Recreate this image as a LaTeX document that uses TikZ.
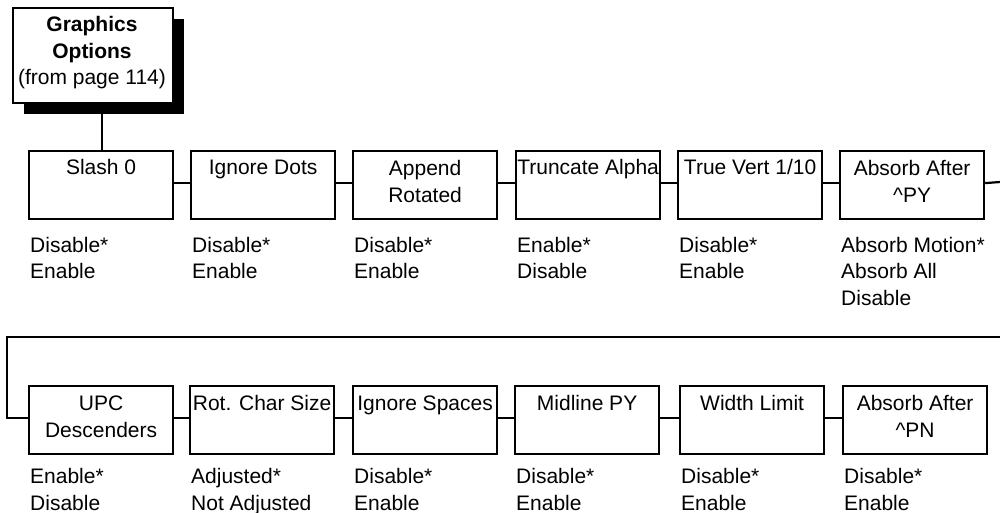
\documentclass[tikz,border=0pt]{standalone}
\usepackage{fontspec}
\setmainfont{Liberation Sans}
\begin{document}
\begin{tikzpicture}[x=1pt,y=-1pt,
  menubox/.style={draw=black,line width=2.2pt,fill=white,minimum width=144pt,minimum height=68pt,anchor=north west,inner sep=0pt},
  shadowbox/.style={fill=black,minimum width=160pt,minimum height=95pt,anchor=north west,inner sep=0pt},
  titletext/.style={font=\fontsize{21}{27}\selectfont,align=center,anchor=base,inner sep=0pt},
  opttext/.style={font=\fontsize{21}{26.5}\selectfont,align=left,anchor=base west,inner sep=0pt},
  link/.style={line width=2.2pt}]
\useasboundingbox (0,0) rectangle (1000,513);
% top box
\node[shadowbox] (gshadow) at (24,19) {};
\node[menubox,minimum width=160pt,minimum height=95pt] (go) at (12,7) {};
\node[titletext,font=\fontsize{21}{26.5}\selectfont] (gotext) at (92,85) {\textbf{Graphics}\\\textbf{Options}\\(from page 114)};
% row 1
\node[menubox] (a1) at (28,150) {};
\node[menubox] (a2) at (190,150) {};
\node[menubox] (a3) at (352,150) {};
\node[menubox] (a4) at (515,150) {};
\node[menubox] (a5) at (677,150) {};
\node[menubox] (a6) at (839,150) {};
\node[titletext] (t1) at ([yshift=-25pt]a1.north) {Slash 0};
\node[titletext] (t2) at ([yshift=-25pt]a2.north) {Ignore Dots};
\node[titletext] (t3) at ([yshift=-52pt]a3.north) {Append\\Rotated};
\node[titletext] (t4) at ([yshift=-25pt]a4.north) {Truncate Alpha};
\node[titletext] (t5) at ([yshift=-25pt]a5.north) {True Vert 1/10};
\node[titletext] (t6) at ([yshift=-52pt]a6.north) {Absorb After\\\textasciicircum PY};
\node[opttext] (o1) at ([xshift=2pt,yshift=-58.5pt]a1.south west) {Disable*\\Enable};
\node[opttext] (o2) at ([xshift=2pt,yshift=-58.5pt]a2.south west) {Disable*\\Enable};
\node[opttext] (o3) at ([xshift=2pt,yshift=-58.5pt]a3.south west) {Disable*\\Enable};
\node[opttext] (o4) at ([xshift=2pt,yshift=-58.5pt]a4.south west) {Enable*\\Disable};
\node[opttext] (o5) at ([xshift=2pt,yshift=-58.5pt]a5.south west) {Disable*\\Enable};
\node[opttext] (o6) at ([xshift=2pt,yshift=-85pt]a6.south west) {Absorb Motion*\\Absorb All\\Disable};
% row 2
\node[menubox] (b1) at (28,385) {};
\node[menubox] (b2) at (189,385) {};
\node[menubox] (b3) at (352,385) {};
\node[menubox] (b4) at (514,385) {};
\node[menubox] (b5) at (679,385) {};
\node[menubox] (b6) at (842,385) {};
\node[titletext] (s1) at ([yshift=-52pt]b1.north) {UPC\\Descenders};
\node[titletext] (s2) at ([yshift=-25pt]b2.north) {Rot. Char Size};
\node[titletext] (s3) at ([yshift=-25pt]b3.north) {Ignore Spaces};
\node[titletext] (s4) at ([yshift=-25pt]b4.north) {Midline PY};
\node[titletext] (s5) at ([yshift=-25pt]b5.north) {Width Limit};
\node[titletext] (s6) at ([yshift=-52pt]b6.north) {Absorb After\\\textasciicircum PN};
\node[opttext] (p1) at ([xshift=2pt,yshift=-55pt]b1.south west) {Enable*\\Disable};
\node[opttext] (p2) at ([xshift=2pt,yshift=-55pt]b2.south west) {Adjusted*\\Not Adjusted};
\node[opttext] (p3) at ([xshift=2pt,yshift=-55pt]b3.south west) {Disable*\\Enable};
\node[opttext] (p4) at ([xshift=2pt,yshift=-55pt]b4.south west) {Disable*\\Enable};
\node[opttext] (p5) at ([xshift=2pt,yshift=-55pt]b5.south west) {Disable*\\Enable};
\node[opttext] (p6) at ([xshift=2pt,yshift=-55pt]b6.south west) {Disable*\\Enable};
% connectors
\coordinate (shadowbottom) at (102,114);
\draw[link] (shadowbottom) -- (a1.north -| shadowbottom);
\foreach \u/\v in {a1/a2,a2/a3,a3/a4,a4/a5,a5/a6}
  \draw[link] ([yshift=2pt]\u.east) -- ([yshift=2pt]\v.west);
\coordinate (r1end) at (1000,182);
\draw[link] ([yshift=2pt]a6.east) -- (r1end);
\coordinate (r2start) at (1000,337);
\coordinate (r2corner) at (7,337);
\draw[link] (r2start) -- (r2corner) |- ([yshift=2pt]b1.west);
\foreach \u/\v in {b1/b2,b2/b3,b3/b4,b4/b5,b5/b6}
  \draw[link] ([yshift=2pt]\u.east) -- ([yshift=2pt]\v.west);
\end{tikzpicture}
\end{document}
